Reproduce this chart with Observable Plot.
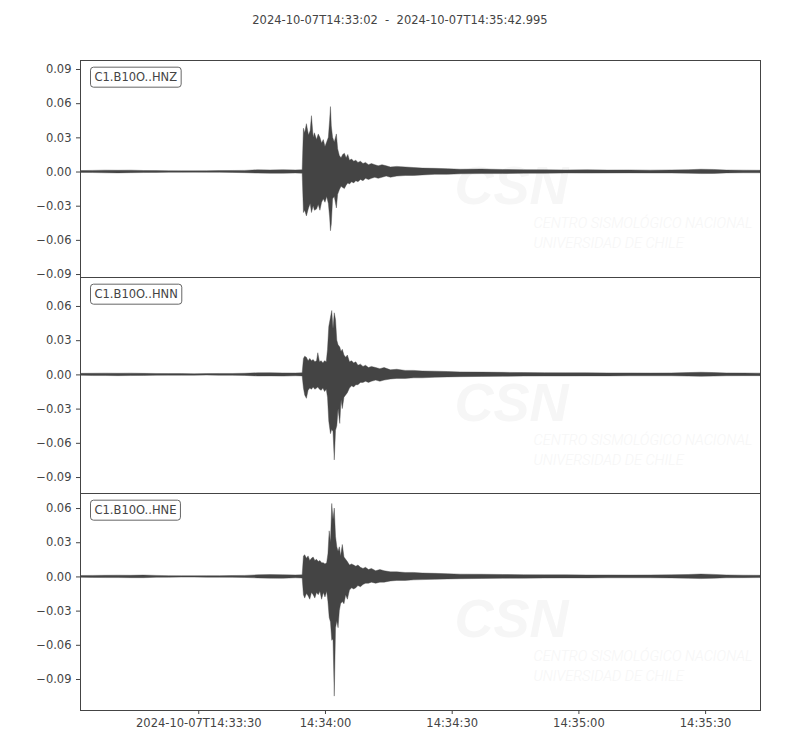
<!DOCTYPE html>
<html><head><meta charset="utf-8">
<script src="https://cdn.jsdelivr.net/npm/d3@7"></script>
<script src="https://cdn.jsdelivr.net/npm/@observablehq/plot@0.6"></script>
<style>
body{margin:0;background:#fff;}
#wrap{position:relative;width:800px;height:750px;font-family:"DejaVu Sans",sans-serif;}
#title{position:absolute;top:13px;left:0;width:800px;text-align:center;font-size:11.5px;color:#444;white-space:pre;}
</style></head><body>
<div id="wrap"><div id="title"></div></div>
<script>
// ---- data ----
const startTime = "2024-10-07T14:33:02Z";
const endTime = "2024-10-07T14:35:42.995Z";
const titleText = "2024-10-07T14:33:02  -  2024-10-07T14:35:42.995";
const channels = ["C1.B10O..HNZ", "C1.B10O..HNN", "C1.B10O..HNE"];
const xTickTimes = ["2024-10-07T14:33:30Z", "2024-10-07T14:34:00Z", "2024-10-07T14:34:30Z", "2024-10-07T14:35:00Z", "2024-10-07T14:35:30Z"];
const yDomains = [[-0.0926, 0.0979], [-0.104, 0.0854], [-0.1172, 0.0732]];
const yTicks = [
  [-0.09, -0.06, -0.03, 0, 0.03, 0.06, 0.09],
  [-0.09, -0.06, -0.03, 0, 0.03, 0.06],
  [-0.09, -0.06, -0.03, 0, 0.03, 0.06]
];
const watermarkTitle = "CSN";
const watermarkText = "CENTRO SISMOLÓGICO NACIONAL\nUNIVERSIDAD DE CHILE";
// envelopes: [seconds after start, max, min]
const hnz = [
  [0,.0008,-.0008],[3,.0010,-.0009],[6,.0012,-.0011],[9,.0011,-.0012],[12,.0012,-.0010],[15,.0009,-.0009],
  [18,.0008,-.0008],[21,.0007,-.0007],[24,.0006,-.0007],[27,.0006,-.0006],[30,.0007,-.0007],[33,.0008,-.0007],
  [36,.0009,-.0008],[39,.0010,-.0010],[42,.0015,-.0014],[45,.0014,-.0015],[48,.0016,-.0015],[51,.0014,-.0013],[52.6,.0015,-.0015],
  [52.9,.038,-.036],[53.2,.034,-.034],[53.6,.042,-.039],[54.1,.032,-.032],[54.5,.036,-.028],[54.8,.049,-.036],
  [55.2,.030,-.030],[55.5,.034,-.034],[56.0,.028,-.033],[56.4,.033,-.029],[56.8,.030,-.034],[57.2,.025,-.027],
  [57.6,.028,-.024],[58.0,.022,-.027],[58.4,.026,-.022],[58.8,.030,-.028],[59.1,.045,-.040],[59.3,.057,-.052],
  [59.5,.040,-.046],[59.8,.030,-.024],[60.2,.026,-.022],[60.7,.033,-.032],[61.0,.020,-.020],[61.4,.014,-.016],
  [61.8,.012,-.013],[62.2,.015,-.014],[62.6,.016,-.015],[63.0,.012,-.012],[63.4,.015,-.010],[63.8,.010,-.011],
  [64.3,.011,-.009],[64.8,.009,-.010],[65.3,.010,-.008],[65.8,.008,-.009],[66.4,.009,-.007],[67.0,.007,-.008],
  [67.6,.008,-.006],[68.3,.006,-.007],[69.0,.007,-.006],[69.8,.006,-.005],[70.6,.005,-.006],[71.5,.006,-.005],
  [72.5,.005,-.004],[73.5,.004,-.005],
  [75,.0045,-.004],[77,.004,-.0035],[79,.0035,-.0035],[81,.003,-.003],[84,.0028,-.0025],[87,.0025,-.0025],
  [90,.002,-.002],[95,.0022,-.0018],[100,.0018,-.0018],[105,.0016,-.0015],[110,.0015,-.0015],[115,.0014,-.0013],
  [120,.0015,-.0014],[125,.0013,-.0013],[130,.0014,-.0012],[135,.0012,-.0013],[140,.0014,-.0013],[144,.0016,-.0015],
  [147,.0020,-.0018],[150,.0018,-.0017],[153,.0013,-.0012],[157,.0012,-.0011],[161,.0011,-.0011]
];
const hnn = [
  [0,.0009,-.0008],[3,.0010,-.0010],[6,.0011,-.0010],[9,.0010,-.0011],[12,.0011,-.0010],[15,.0009,-.0009],
  [18,.0008,-.0008],[21,.0007,-.0007],[24,.0007,-.0007],[27,.0006,-.0007],[30,.0007,-.0006],[33,.0008,-.0008],
  [36,.0008,-.0008],[39,.0010,-.0009],[42,.0014,-.0014],[45,.0015,-.0013],[48,.0013,-.0015],[51,.0012,-.0012],[52.6,.0014,-.0013],
  [52.9,.014,-.012],[53.2,.016,-.018],[53.6,.015,-.021],[54.0,.012,-.014],[54.4,.014,-.012],[54.8,.012,-.013],
  [55.2,.013,-.011],[55.6,.011,-.013],[56.0,.012,-.012],[56.3,.019,-.011],[56.7,.011,-.013],[57.1,.012,-.014],
  [57.5,.010,-.012],[57.9,.012,-.015],[58.3,.011,-.013],[58.6,.022,-.020],[58.9,.042,-.041],[59.3,.050,-.052],
  [59.6,.056,-.048],[59.9,.040,-.050],[60.2,.054,-.075],[60.5,.048,-.049],[60.8,.030,-.045],[61.1,.026,-.030],
  [61.5,.024,-.043],[61.8,.020,-.022],[62.1,.022,-.030],[62.5,.017,-.020],[62.9,.015,-.018],[63.3,.017,-.016],
  [63.8,.011,-.012],[64.3,.012,-.010],[64.8,.010,-.011],[65.3,.011,-.009],[65.8,.008,-.009],[66.4,.009,-.007],
  [67.0,.007,-.007],[67.6,.008,-.006],[68.3,.006,-.007],[69.0,.007,-.006],[70.0,.006,-.005],[71.0,.005,-.006],
  [72.0,.006,-.005],[73.5,.004,-.004],
  [75,.0045,-.0035],[77,.0035,-.0035],[79,.0035,-.003],[81,.003,-.003],[84,.0028,-.0025],[87,.0025,-.0022],
  [90,.0022,-.002],[95,.002,-.0018],[100,.0018,-.0017],[105,.0016,-.0015],[110,.0015,-.0014],[115,.0014,-.0014],
  [120,.0014,-.0013],[125,.0013,-.0013],[130,.0013,-.0012],[135,.0012,-.0012],[140,.0013,-.0012],[144,.0016,-.0015],
  [147,.0019,-.0017],[150,.0016,-.0015],[153,.0013,-.0012],[157,.0012,-.0011],[161,.0011,-.0011]
];
const hne = [
  [0,.0008,-.0008],[3,.0009,-.0009],[6,.0010,-.0010],[9,.0011,-.0010],[12,.0010,-.0011],[15,.0012,-.0011],
  [18,.0009,-.0008],[21,.0007,-.0007],[24,.0006,-.0006],[27,.0006,-.0006],[30,.0007,-.0007],[33,.0007,-.0007],
  [36,.0008,-.0008],[39,.0009,-.0009],[42,.0014,-.0013],[45,.0016,-.0015],[48,.0015,-.0016],[51,.0013,-.0012],[52.6,.0014,-.0014],
  [52.9,.018,-.016],[53.2,.019,-.019],[53.6,.016,-.015],[54.0,.018,-.017],[54.4,.014,-.020],[54.8,.016,-.014],
  [55.2,.017,-.016],[55.6,.014,-.019],[56.0,.015,-.014],[56.4,.013,-.016],[56.8,.014,-.013],[57.2,.012,-.020],
  [57.6,.012,-.014],[58.0,.011,-.018],[58.4,.012,-.013],[58.7,.020,-.022],[59.0,.040,-.036],[59.3,.030,-.040],
  [59.6,.064,-.056],[59.9,.050,-.055],[60.2,.060,-.105],[60.5,.035,-.045],[60.8,.026,-.039],[61.1,.022,-.045],
  [61.4,.026,-.030],[61.7,.018,-.024],[62.1,.028,-.022],[62.5,.017,-.024],[62.9,.015,-.016],[63.3,.013,-.020],
  [63.8,.010,-.012],[64.3,.011,-.010],[64.8,.010,-.011],[65.3,.009,-.010],[65.8,.010,-.008],[66.4,.008,-.009],
  [67.0,.007,-.007],[67.6,.008,-.006],[68.3,.006,-.006],[69.0,.007,-.005],[70.0,.005,-.006],[71.0,.006,-.005],
  [72.0,.005,-.005],[73.5,.004,-.004],
  [75,.004,-.0035],[77,.0035,-.0035],[79,.0035,-.003],[81,.003,-.0028],[84,.0027,-.0025],[87,.0024,-.0022],
  [90,.002,-.002],[95,.0019,-.0018],[100,.0017,-.0016],[105,.0015,-.0015],[110,.0014,-.0014],[115,.0014,-.0013],
  [120,.0013,-.0013],[125,.0013,-.0012],[130,.0012,-.0012],[135,.0013,-.0012],[140,.0014,-.0013],[144,.0017,-.0016],
  [147,.0021,-.0019],[150,.0018,-.0016],[153,.0013,-.0012],[157,.0011,-.0011],[161,.0010,-.0010]
];
const envelopes = [hnz, hnn, hne];

// ---- layout ----
const panelBoxes = [
  {top: 59, height: 219, marginBottom: 1},
  {top: 276, height: 218, marginBottom: 1},
  {top: 492, height: 259, marginBottom: 41}
];
const ink = "#444";
const fontStack = "DejaVu Sans, sans-serif";

document.getElementById("title").textContent = titleText;
const wrap = document.getElementById("wrap");
const t0 = Date.parse(startTime);
const xDomain = [new Date(startTime), new Date(endTime)];
const hms = d3.utcFormat("%H:%M:%S");
const full = d3.utcFormat("%Y-%m-%dT%H:%M:%S");
const xTicks = xTickTimes.map(s => new Date(s));

channels.forEach((name, i) => {
  const rows = envelopes[i].map(([s, hi, lo]) => ({time: new Date(t0 + s * 1000), hi, lo}));
  const box = panelBoxes[i];
  const isLast = i === channels.length - 1;
  const marks = [
    Plot.text([watermarkTitle], {frameAnchor: "top-left", dx: 374, dy: 126, text: d => d, fontSize: 54, fontWeight: "bold",
      fontStyle: "italic", fontFamily: "Liberation Sans, sans-serif", fill: "#f6f6f6", textAnchor: "start", lineAnchor: "middle"}),
    Plot.text([watermarkText], {frameAnchor: "top-left", dx: 453, dy: 154, text: d => d,
      fontSize: 14.5, fontWeight: 300, fontStyle: "italic", fontFamily: "Roboto, sans-serif", fill: "#f6f6f6",
      textAnchor: "start", lineAnchor: "top", lineHeight: 1.35}),
    Plot.areaY(rows, {x: "time", y1: "lo", y2: "hi", fill: ink, stroke: ink, strokeWidth: 0.4, clip: true}),
    Plot.frame({stroke: ink, strokeWidth: 1}),
    Plot.axisY({ticks: yTicks[i], tickFormat: d3.format(".2f"), tickSize: 4, tickPadding: 5, label: null, stroke: ink}),
    Plot.text([name], {frameAnchor: "top-left", dx: 14, dy: 17, text: d => d, fill: ink, textAnchor: "start",
      lineAnchor: "middle", fontSize: 11.5})
  ];
  if (isLast) {
    marks.push(Plot.axisX({ticks: xTicks, tickSize: 4, tickPadding: 4, label: null, stroke: ink,
      tickFormat: (d, k) => k === 0 ? full(d) : hms(d)}));
  }
  const svg = Plot.plot({
    width: 800,
    height: box.height,
    marginLeft: 80,
    marginRight: 40,
    marginTop: 1,
    marginBottom: box.marginBottom,
    style: {fontFamily: fontStack, fontSize: "11.5px", color: ink, background: "transparent", overflow: "visible"},
    x: {type: "utc", domain: xDomain, axis: isLast ? undefined : null},
    y: {domain: yDomains[i]},
    marks
  });
  svg.style.position = "absolute";
  svg.style.left = "0px";
  svg.style.top = box.top + "px";
  wrap.appendChild(svg);

  // rounded box behind channel label
  const label = d3.select(svg).selectAll("text").filter(function() { return this.textContent === name; }).node();
  if (label) {
    const bb = label.getBBox();
    const pad = 4;
    const rect = document.createElementNS("http://www.w3.org/2000/svg", "rect");
    rect.setAttribute("x", bb.x - pad);
    rect.setAttribute("y", bb.y - 3);
    rect.setAttribute("width", bb.width + 2 * pad);
    rect.setAttribute("height", bb.height + 6);
    rect.setAttribute("rx", 3);
    rect.setAttribute("fill", "white");
    rect.setAttribute("stroke", "#666");
    rect.setAttribute("stroke-width", 1);
    if (label.getAttribute("transform")) rect.setAttribute("transform", label.getAttribute("transform"));
    label.parentNode.insertBefore(rect, label);
  }
});
</script>
</body></html>
